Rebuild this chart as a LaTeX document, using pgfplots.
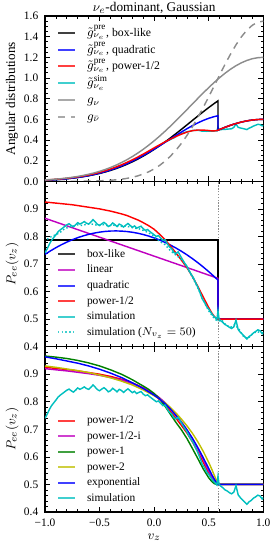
\documentclass[border=0pt]{standalone}
\usepackage{fontspec}
\setmainfont{Liberation Serif}
\usepackage{pgfplots}
\usepackage{pgfplotstable}
\pgfplotsset{compat=1.18}
\definecolor{cC}{rgb}{0,0.75,0.75}
\definecolor{cM}{rgb}{0.75,0,0.75}
\definecolor{cG}{rgb}{0,0.5,0}
\definecolor{cY}{rgb}{0.75,0.75,0}
\definecolor{cGr}{rgb}{0.55,0.55,0.55}
\newcommand{\lm}[1]{{\fontsize{9.2}{11}\selectfont#1}}

% ---------- P_ee tables ----------
\pgfplotstableread{
v P
-1.00 0.925
-0.95 0.923
-0.90 0.921
-0.85 0.919
-0.80 0.917
-0.75 0.915
-0.70 0.912
-0.65 0.909
-0.60 0.906
-0.55 0.903
-0.50 0.900
-0.45 0.896
-0.40 0.892
-0.35 0.887
-0.30 0.882
-0.25 0.876
-0.20 0.868
-0.15 0.860
-0.10 0.850
-0.05 0.839
0.00 0.826
0.05 0.808
0.10 0.788
0.15 0.765
0.20 0.740
0.25 0.714
0.30 0.687
0.35 0.655
0.40 0.619
0.45 0.580
0.50 0.542
0.525 0.524
0.55 0.510
0.57 0.503
0.585 0.500
1.00 0.500
}\redP

\pgfplotstableread{
v P
-1.00 0.7350
-0.95 0.7476
-0.90 0.7593
-0.85 0.7699
-0.80 0.7794
-0.75 0.7880
-0.70 0.7956
-0.65 0.8021
-0.60 0.8076
-0.55 0.8121
-0.50 0.8156
-0.45 0.8181
-0.40 0.8196
-0.35 0.8200
-0.30 0.8194
-0.25 0.8178
-0.20 0.8152
-0.15 0.8116
-0.10 0.8070
-0.05 0.8014
0.00 0.7947
0.05 0.7870
0.10 0.7783
0.15 0.7686
0.20 0.7579
0.25 0.7462
0.30 0.7334
0.35 0.7197
0.40 0.7049
0.45 0.6891
0.50 0.6723
0.55 0.6545
0.585 0.6414
0.585 0.500
1.00 0.500
}\quadP

\pgfplotstableread{
v P
-1.00 0.740
-0.98 0.755
-0.96 0.772
-0.94 0.786
-0.92 0.796
-0.90 0.806
-0.88 0.817
-0.86 0.824
-0.84 0.830
-0.82 0.836
-0.80 0.842
-0.78 0.846
-0.76 0.840
-0.74 0.835
-0.72 0.842
-0.70 0.850
-0.68 0.845
-0.66 0.849
-0.64 0.854
-0.62 0.848
-0.60 0.845
-0.58 0.852
-0.56 0.861
-0.54 0.853
-0.52 0.844
-0.50 0.840
-0.48 0.846
-0.46 0.851
-0.44 0.845
-0.42 0.836
-0.40 0.840
-0.38 0.849
-0.36 0.843
-0.34 0.836
-0.32 0.845
-0.30 0.841
-0.28 0.834
-0.26 0.841
-0.24 0.847
-0.22 0.840
-0.20 0.833
-0.18 0.838
-0.16 0.830
-0.14 0.834
-0.12 0.837
-0.10 0.828
-0.08 0.822
-0.06 0.825
-0.04 0.818
-0.02 0.812
0.00 0.806
0.02 0.800
0.04 0.803
0.06 0.794
0.08 0.786
0.10 0.788
0.12 0.774
0.14 0.762
0.16 0.756
0.18 0.742
0.20 0.738
0.22 0.744
0.24 0.730
0.26 0.716
0.28 0.703
0.30 0.692
0.32 0.676
0.34 0.662
0.36 0.650
0.38 0.632
0.40 0.616
0.42 0.596
0.44 0.574
0.46 0.562
0.48 0.546
0.50 0.536
0.52 0.524
0.54 0.513
0.56 0.505
0.575 0.498
0.585 0.530
0.595 0.500
0.61 0.494
0.63 0.488
0.65 0.480
0.67 0.476
0.69 0.470
0.71 0.466
0.73 0.472
0.75 0.496
0.77 0.462
0.79 0.452
0.81 0.444
0.83 0.436
0.85 0.428
0.87 0.437
0.89 0.442
0.91 0.450
0.93 0.455
0.95 0.461
0.97 0.458
0.99 0.447
1.00 0.452
}\simP

\pgfplotstableread{
v P
-0.98 0.790
-0.94 0.800
-0.90 0.806
-0.86 0.815
-0.82 0.828
-0.78 0.834
-0.74 0.838
-0.70 0.842
-0.66 0.840
-0.62 0.844
-0.58 0.846
-0.54 0.842
-0.50 0.840
-0.46 0.843
-0.42 0.838
-0.38 0.842
-0.34 0.838
-0.30 0.836
-0.26 0.838
-0.22 0.834
-0.18 0.830
-0.14 0.828
-0.10 0.822
-0.06 0.815
-0.02 0.806
0.02 0.792
0.06 0.780
0.10 0.770
0.14 0.752
0.18 0.738
0.22 0.726
0.26 0.712
0.30 0.690
0.34 0.660
0.38 0.630
0.42 0.596
0.46 0.560
0.50 0.530
0.54 0.508
0.58 0.492
0.62 0.496
0.66 0.478
0.70 0.470
0.74 0.480
0.78 0.462
0.82 0.436
0.86 0.430
0.90 0.446
0.94 0.455
0.98 0.450
}\simFifty

\pgfplotstableread{
v P
-1.00 0.920
-0.90 0.916
-0.80 0.912
-0.70 0.907
-0.60 0.902
-0.50 0.896
-0.40 0.888
-0.30 0.879
-0.20 0.866
-0.10 0.850
0.00 0.829
0.05 0.814
0.10 0.797
0.15 0.776
0.20 0.753
0.25 0.727
0.30 0.699
0.35 0.667
0.40 0.630
0.45 0.590
0.50 0.549
0.525 0.530
0.55 0.514
0.57 0.504
0.585 0.500
1.00 0.500
}\magP

\pgfplotstableread{
v P
-1.00 0.966
-0.90 0.962
-0.80 0.957
-0.70 0.950
-0.60 0.941
-0.50 0.930
-0.40 0.916
-0.30 0.900
-0.20 0.880
-0.10 0.857
-0.05 0.845
0.00 0.830
0.05 0.811
0.10 0.784
0.15 0.754
0.20 0.725
0.25 0.698
0.30 0.667
0.35 0.631
0.40 0.594
0.45 0.556
0.50 0.524
0.525 0.512
0.55 0.503
0.575 0.500
1.00 0.500
}\greenP

\pgfplotstableread{
v P
-1.00 0.930
-0.90 0.925
-0.80 0.919
-0.70 0.913
-0.60 0.906
-0.50 0.897
-0.40 0.887
-0.30 0.875
-0.20 0.861
-0.10 0.843
0.00 0.822
0.05 0.810
0.10 0.796
0.15 0.779
0.20 0.759
0.25 0.737
0.30 0.713
0.35 0.686
0.40 0.655
0.45 0.620
0.50 0.580
0.525 0.558
0.55 0.534
0.57 0.516
0.585 0.500
1.00 0.500
}\yelP

\pgfplotstableread{
v P
-1.00 0.963
-0.90 0.956
-0.80 0.948
-0.70 0.940
-0.60 0.930
-0.50 0.918
-0.40 0.904
-0.30 0.888
-0.20 0.869
-0.10 0.848
0.00 0.824
0.05 0.810
0.10 0.793
0.15 0.773
0.20 0.750
0.25 0.725
0.30 0.698
0.35 0.668
0.40 0.634
0.45 0.597
0.50 0.558
0.525 0.538
0.55 0.520
0.57 0.507
0.585 0.500
1.00 0.500
}\expP

% ---------- angular distributions ----------
\pgfplotstableread{
v g
-1.00 0.01368
-0.95 0.01706
-0.90 0.02116
-0.85 0.02609
-0.80 0.03199
-0.75 0.03903
-0.70 0.04734
-0.65 0.05709
-0.60 0.06849
-0.55 0.08166
-0.50 0.09684
-0.45 0.1142
-0.40 0.1339
-0.35 0.1562
-0.30 0.1812
-0.25 0.2089
-0.20 0.2396
-0.15 0.2733
-0.10 0.3100
-0.05 0.3496
0.00 0.3921
0.05 0.4373
0.10 0.4849
0.15 0.5348
0.20 0.5866
0.25 0.6396
0.30 0.6936
0.35 0.7481
0.40 0.8022
0.45 0.8555
0.50 0.9072
0.55 0.9568
0.60 1.0033
0.65 1.0464
0.70 1.0851
0.75 1.1190
0.80 1.1475
0.85 1.1701
0.90 1.1867
0.95 1.1966
1.00 1.2000
}\gnu

\pgfplotstableread{
v g
-1.00 0.0001
-0.90 0.0002
-0.80 0.0004
-0.70 0.0010
-0.60 0.0022
-0.50 0.0049
-0.45 0.0072
-0.40 0.0103
-0.35 0.0147
-0.30 0.0206
-0.25 0.0285
-0.20 0.0390
-0.15 0.0527
-0.10 0.0702
-0.05 0.0924
0.00 0.1201
0.05 0.1541
0.10 0.1953
0.15 0.2442
0.20 0.3016
0.25 0.3677
0.30 0.4427
0.35 0.5261
0.40 0.6173
0.45 0.7151
0.50 0.8178
0.55 0.9235
0.60 1.0295
0.65 1.1331
0.70 1.2313
0.75 1.3211
0.80 1.3993
0.85 1.4633
0.90 1.5109
0.95 1.5401
1.00 1.5500
}\gnubar

\pgfplotstableread{
v g
-1.00 0.01077
-0.95 0.01343
-0.90 0.01665
-0.85 0.02053
-0.80 0.02518
-0.75 0.03072
-0.70 0.03726
-0.65 0.04493
-0.60 0.05390
-0.55 0.06427
-0.50 0.07621
-0.45 0.08988
-0.40 0.1054
-0.35 0.1229
-0.30 0.1426
-0.25 0.1644
-0.20 0.1886
-0.15 0.2151
-0.10 0.2440
-0.05 0.2751
0.00 0.3086
0.05 0.3442
0.10 0.3816
0.15 0.4209
0.20 0.4617
0.25 0.5034
0.30 0.5459
0.35 0.5888
0.40 0.6313
0.45 0.6733
0.50 0.7140
0.55 0.7530
0.585 0.7790
0.585 0.4949
0.60 0.5017
0.65 0.5232
0.70 0.5426
0.75 0.5595
0.80 0.5738
0.85 0.5851
0.90 0.5934
0.95 0.5983
1.00 0.6000
}\gbox

\pgfplotstableread{
v g
-1.00 0.01006
-0.95 0.01275
-0.90 0.01607
-0.85 0.02009
-0.80 0.02493
-0.75 0.03076
-0.70 0.03766
-0.65 0.04579
-0.60 0.05531
-0.55 0.06632
-0.50 0.07898
-0.45 0.09343
-0.40 0.1097
-0.35 0.1281
-0.30 0.1485
-0.25 0.1708
-0.20 0.1953
-0.15 0.2218
-0.10 0.2502
-0.05 0.2802
0.00 0.3116
0.05 0.3442
0.10 0.3774
0.15 0.4111
0.20 0.4446
0.25 0.4773
0.30 0.5087
0.35 0.5384
0.40 0.5655
0.45 0.5895
0.50 0.6099
0.55 0.6262
0.585 0.6349
0.585 0.4949
0.60 0.5017
0.65 0.5232
0.70 0.5426
0.75 0.5595
0.80 0.5738
0.85 0.5851
0.90 0.5934
0.95 0.5983
1.00 0.6000
}\gquad

\pgfplotstableread{
v g
-1.00 0.01265
-0.95 0.01575
-0.90 0.01949
-0.85 0.02398
-0.80 0.02933
-0.75 0.03571
-0.70 0.04317
-0.65 0.05189
-0.60 0.06205
-0.55 0.07374
-0.50 0.08716
-0.45 0.1023
-0.40 0.1194
-0.35 0.1386
-0.30 0.1598
-0.25 0.1830
-0.20 0.2080
-0.15 0.2350
-0.10 0.2635
-0.05 0.2933
0.00 0.3239
0.05 0.3533
0.10 0.3821
0.15 0.4091
0.20 0.4341
0.25 0.4567
0.30 0.4765
0.35 0.4900
0.40 0.4966
0.45 0.4962
0.50 0.4917
0.525 0.4885
0.55 0.4880
0.57 0.4908
0.585 0.4949
0.60 0.5017
0.65 0.5232
0.70 0.5426
0.75 0.5595
0.80 0.5738
0.85 0.5851
0.90 0.5934
0.95 0.5983
1.00 0.6000
}\gpow

\pgfplotstableread{
v g
-1.00 0.01012
-0.95 0.01329
-0.90 0.01705
-0.85 0.02158
-0.80 0.02694
-0.75 0.03271
-0.70 0.04024
-0.65 0.04858
-0.60 0.05787
-0.55 0.06998
-0.50 0.08135
-0.45 0.09684
-0.40 0.1125
-0.35 0.1312
-0.30 0.1524
-0.25 0.1763
-0.20 0.1996
-0.15 0.2274
-0.10 0.2567
-0.05 0.2874
0.00 0.3160
0.02 0.3278
0.04 0.3437
0.06 0.3546
0.08 0.3660
0.10 0.3821
0.12 0.3906
0.14 0.3998
0.16 0.4120
0.18 0.4197
0.20 0.4329
0.22 0.4521
0.24 0.4591
0.26 0.4657
0.28 0.4723
0.30 0.4800
0.32 0.4836
0.34 0.4880
0.36 0.4933
0.38 0.4933
0.40 0.4942
0.42 0.4909
0.44 0.4850
0.46 0.4867
0.48 0.4842
0.50 0.4863
0.52 0.4860
0.54 0.4859
0.56 0.4880
0.575 0.4883
0.585 0.5246
0.595 0.4994
0.61 0.5001
0.63 0.5025
0.65 0.5023
0.67 0.5057
0.69 0.5065
0.71 0.5090
0.73 0.5220
0.75 0.5550
0.77 0.5226
0.79 0.5163
0.81 0.5117
0.83 0.5065
0.85 0.5008
0.87 0.5146
0.89 0.5233
0.91 0.5351
0.93 0.5430
0.95 0.5516
0.97 0.5491
0.99 0.5364
1.00 0.5424
}\gsim

\pgfplotsset{
 panel/.style={
  scale only axis, width=152.8pt, height=115.73pt,
  xmin=-1, xmax=1, xtick={-1,-0.5,0,0.5,1}, minor x tick num=4,
  tick align=inside, xtick pos=both, ytick pos=both,
  major tick length=3.5pt, minor tick length=1.9pt,
  tick style={black, line width=0.5pt},
  axis line style={line width=0.8pt},
  tick label style={font=\fontsize{8}{9.6}\selectfont},
  yticklabel style={xshift=-1.2pt},
  xticklabel style={yshift=-1pt},
  ylabel style={at={(axis description cs:-0.151,0.5)}, anchor=center, font=\fontsize{9.3}{11}\selectfont},
  legend cell align=left,
  legend image code/.code={\draw[##1, line width=1.4pt, opacity=0.75] (0pt,0pt) -- (11.9pt,0pt);},
  legend style={draw=none, fill=none, inner sep=0pt, outer sep=0pt,
    font=\fontsize{8}{9.6}\selectfont,
    /tikz/every odd column/.append style={column sep=7.7pt}},
  every axis plot/.append style={line width=1pt},
 },
}

\begin{document}
\begin{tikzpicture}
\useasboundingbox (-31.5pt,11.2pt) rectangle (160.3pt,-372.4pt);

% ---------------- top panel ----------------
\begin{axis}[panel, name=top, at={(0pt,0pt)}, anchor=north west,
  ymin=0, ymax=1.6,
  ytick={0,0.2,0.4,0.6,0.8,1.0,1.2,1.4,1.6},
  yticklabels={0.0,0.2,0.4,0.6,0.8,1.0,1.2,1.4,1.6},
  minor y tick num=3, xticklabels={},
  ylabel={Angular distributions},
  title={$\nu_e$-dominant, Gaussian},
  title style={at={(axis description cs:0.5,1)}, anchor=base, yshift=-3pt, font=\fontsize{9.3}{11}\selectfont},
  legend style={at={(axis description cs:0.055,0.949)}, anchor=north west,
    font=\fontsize{8.2}{10}\selectfont,
    nodes={inner sep=0pt, text height=8.2pt, text depth=3.4pt}, row sep=0.2pt},
]
\addplot[cC, forget plot] table[x=v,y=g] {\gsim};
\addplot[black] table[x=v,y=g] {\gbox};
\addlegendentry{\lm{$\tilde{g}^{\mathrm{pre}}_{\nu_e}$}, box-like}
\addplot[blue] table[x=v,y=g] {\gquad};
\addlegendentry{\lm{$\tilde{g}^{\mathrm{pre}}_{\nu_e}$}, quadratic}
\addplot[red] table[x=v,y=g] {\gpow};
\addlegendentry{\lm{$\tilde{g}^{\mathrm{pre}}_{\nu_e}$}, power-1/2}
\addlegendimage{cC, line width=1pt}
\addlegendentry{\lm{$\tilde{g}^{\mathrm{sim}}_{\nu_e}$}}
\addplot[cGr] table[x=v,y=g] {\gnu};
\addlegendentry{\lm{$g_{\nu}$}}
\addplot[cGr, dash pattern=on 5pt off 4pt] table[x=v,y=g] {\gnubar};
\addlegendentry{\lm{$g_{\bar{\nu}}$}}
\end{axis}

% ---------------- middle panel ----------------
\begin{axis}[panel, name=mid, at={(top.south west)}, anchor=north west,
  ymin=0.4, ymax=1.0,
  ytick={0.4,0.5,0.6,0.7,0.8,0.9,1.0},
  yticklabels={0.4,0.5,0.6,0.7,0.8,0.9,{}},
  minor y tick num=4, xticklabels={},
  ylabel={$P_{ee}(v_z)$},
  legend style={at={(axis description cs:0.055,0.595)}, anchor=north west,
    nodes={inner sep=0pt, text height=6.3pt, text depth=2.3pt}, row sep=2.3pt},
]
\addplot[cGr, densely dotted, line width=0.6pt, forget plot] coordinates {(0.585,0.4) (0.585,1.0)};
\addplot[black] coordinates {(-1,0.787) (0.585,0.787) (0.585,0.5) (1,0.5)};
\addlegendentry{box-like}
\addplot[cM] coordinates {(-1,0.866) (0.585,0.648) (0.585,0.5) (1,0.5)};
\addlegendentry{linear}
\addplot[blue] table[x=v,y=P] {\quadP};
\addlegendentry{quadratic}
\addplot[red] table[x=v,y=P] {\redP};
\addlegendentry{power-1/2}
\addplot[cC] table[x=v,y=P] {\simP};
\addlegendentry{simulation}
\addplot[cC, dash pattern=on 1pt off 1.6pt] table[x=v,y=P] {\simFifty};
\addlegendentry{simulation ($N_{v_z}=50$)}
\end{axis}

% ---------------- bottom panel ----------------
\begin{axis}[panel, name=bot, at={(mid.south west)}, anchor=north west,
  ymin=0.4, ymax=1.0,
  ytick={0.4,0.5,0.6,0.7,0.8,0.9,1.0},
  yticklabels={0.4,0.5,0.6,0.7,0.8,0.9,{}},
  minor y tick num=4,
  xticklabels={−1.0,−0.5,0.0,0.5,1.0},
  ylabel={$P_{ee}(v_z)$},
  xlabel={$v_z$},
  xlabel style={at={(axis description cs:0.5,0)}, anchor=center, yshift=-17.5pt, font=\fontsize{9.3}{11}\selectfont},
  legend style={at={(axis description cs:0.055,0.59)}, anchor=north west,
    nodes={inner sep=0pt, text height=6.3pt, text depth=2.3pt}, row sep=2.3pt},
]
\addplot[cGr, densely dotted, line width=0.6pt, forget plot] coordinates {(0.585,0.4) (0.585,1.0)};
\addplot[red] table[x=v,y=P] {\redP};
\addlegendentry{power-1/2}
\addplot[cM] table[x=v,y=P] {\magP};
\addlegendentry{power-1/2-i}
\addplot[cG] table[x=v,y=P] {\greenP};
\addlegendentry{power-1}
\addplot[cY] table[x=v,y=P] {\yelP};
\addlegendentry{power-2}
\addplot[blue] table[x=v,y=P] {\expP};
\addlegendentry{exponential}
\addplot[cC] table[x=v,y=P] {\simP};
\addlegendentry{simulation}
\end{axis}
\end{tikzpicture}
\end{document}
